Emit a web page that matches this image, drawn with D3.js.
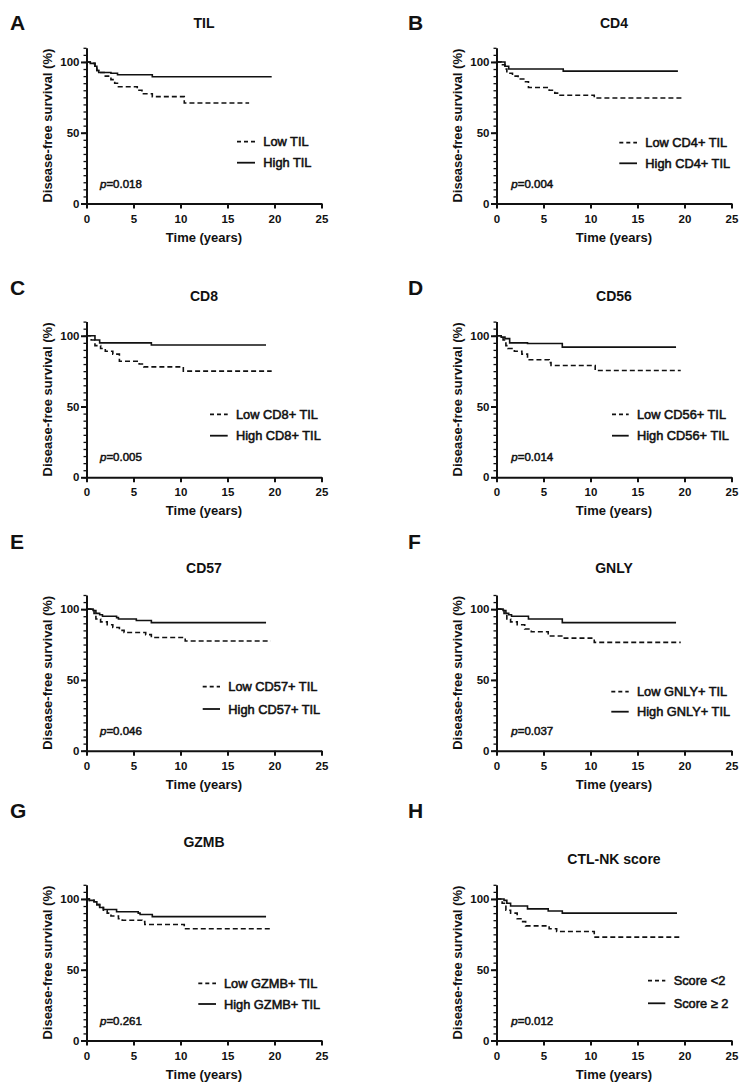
<!DOCTYPE html>
<html>
<head>
<meta charset="utf-8">
<script src="https://cdn.jsdelivr.net/npm/d3@7"></script>
<style>
  html, body { margin: 0; padding: 0; background: #fff; }
  svg { display: block; }
  text { font-family: "Liberation Sans", Arial, sans-serif; fill: #111; }
</style>
</head>
<body>
<svg id="chart" width="744" height="1090"></svg>
<script>
// ---------- DATA (Kaplan–Meier step points: [time in years, survival %]) ----------
const panelLetters = ["A", "B", "C", "D", "E", "F", "G", "H"];
const panelTitles = ["TIL", "CD4", "CD8", "CD56", "CD57", "GNLY", "GZMB", "CTL-NK score"];
const lowLabels = ["Low TIL", "Low CD4+ TIL", "Low CD8+ TIL", "Low CD56+ TIL", "Low CD57+ TIL", "Low GNLY+ TIL", "Low GZMB+ TIL", "Score <2"];
const highLabels = ["High TIL", "High CD4+ TIL", "High CD8+ TIL", "High CD56+ TIL", "High CD57+ TIL", "High GNLY+ TIL", "High GZMB+ TIL", "Score \u2265 2"];
const pValues = ["0.018", "0.004", "0.005", "0.014", "0.046", "0.037", "0.261", "0.012"];
const xTicks = [0, 5, 10, 15, 20, 25];
const yTicks = [0, 50, 100];
const yMinorTicks = d3.range(0, 111, 5);

const tilHigh = [[0,100],[0.4,99],[0.9,97],[1.1,94],[1.3,92.5],[2.6,92],[3.3,91],[7.0,89.5],[19.7,89.5]];
const tilLow  = [[0,100],[0.4,99],[0.9,97],[1.1,94],[1.3,92.5],[2.0,90],[2.6,87.5],[3.0,85],[3.4,82.5],[5.4,80],[5.9,77.5],[7.0,75.5],[10.4,71],[17.3,71]];

const cd4High = [[0,100],[0.9,97],[1.3,95],[7.1,93.5],[19.3,93.5]];
const cd4Low  = [[0,100],[0.5,98],[0.9,95],[1.1,92],[1.7,90],[2.3,88],[2.9,86],[3.4,82],[5.6,80],[6.2,78],[6.6,76.5],[10.4,74.5],[19.7,74.5]];

const cd8High = [[0,100],[0.9,97],[1.4,95],[6.9,93.5],[19.1,93.5]];
const cd8Low  = [[0,100],[0.5,97],[0.9,93],[1.5,91],[2.0,89],[2.8,87],[3.5,82],[5.6,80],[6.1,78],[10.3,75],[19.7,75]];

const cd56High = [[0,100],[0.5,99],[0.9,98],[1.4,95],[3.3,94.5],[7.0,92],[19.1,92]];
const cd56Low  = [[0,100],[0.7,97],[1.0,93],[1.2,91],[1.9,89],[2.7,87],[3.3,83],[5.6,81],[5.8,79],[10.5,75.5],[19.6,75.5]];

const cd57High = [[0,100],[0.7,99],[1.0,97],[1.4,96],[1.7,95],[3.2,94],[3.4,93],[5.3,92],[6.9,90.5],[19.1,90.5]];
const cd57Low  = [[0,100],[0.8,97],[1.0,93],[1.5,91],[2.2,89],[2.8,87],[3.5,85],[4.0,83.5],[6.3,82],[6.9,80],[10.5,77.5],[19.6,77.5]];

const gnlyHigh = [[0,100],[0.7,99],[1.0,97],[1.3,96],[1.6,95],[3.4,93],[7.0,90.5],[19.1,90.5]];
const gnlyLow  = [[0,100],[0.8,97],[1.1,93],[1.5,91],[2.2,89],[3.0,86],[3.7,84],[5.5,81],[7.1,79.5],[10.4,76.5],[19.6,76.5]];

const gzmbHigh = [[0,100],[0.3,99],[0.8,98],[1.1,96],[1.4,94],[1.8,92.5],[3.2,91],[5.5,90],[5.7,89],[7.0,87.5],[19.1,87.5]];
const gzmbLow  = [[0,100],[0.3,99],[0.8,98],[1.1,96],[1.4,94],[1.8,92],[2.2,90],[2.6,88],[3.4,86],[3.8,85],[5.9,84],[6.2,82],[10.4,79],[19.7,79]];

const scoreHigh = [[0,100],[0.8,99],[1.1,97],[1.5,95],[3.3,93],[5.5,91.5],[7.0,90],[19.2,90]];
const scoreLow  = [[0,100],[0.6,97],[1.0,92],[1.5,90],[2.2,86],[2.6,84],[3.1,81],[5.6,79],[6.4,77],[10.4,73],[19.6,73]];

const highSeries = [tilHigh, cd4High, cd8High, cd56High, cd57High, gnlyHigh, gzmbHigh, scoreHigh];
const lowSeries  = [tilLow, cd4Low, cd8Low, cd56Low, cd57Low, gnlyLow, gzmbLow, scoreLow];

// ---------- LAYOUT ----------
const colX0 = [86.5, 496.5];          // x pixel of time 0
const plotW = 235;                    // 0..25 years
const rowY0 = [203.5, 477.3, 750.7, 1040.5]; // y pixel of 0 %
const plotH = 155.7;                  // 0..110 %
const letterBase = [30, 295, 549, 817.5];
const titleBase = [[28.3, 28.3], [300.7, 300.7], [573, 573], [846.7, 864]];
// legend: [lineX1, lineX2, textX, row1Y, row2Y] relative to plot origin
const legendPos = [
  [150.5, 168.5, 176.8, -61.8, -40.8],
  [122.8, 140.5, 148.8, -60.8, -40.2],
  [123.5, 141.2, 149.5, -63, -41.6],
  [115.5, 132.2, 140.5, -63, -41.6],
  [116.2, 133.5, 141.8, -64, -41.7],
  [114.8, 132.2, 140.5, -59, -39],
  [111.8, 129.5, 137.5, -57.2, -36.5],
  [151.5, 168.8, 177.2, -59.8, -37.2]
];

const svg = d3.select("#chart");
svg.append("rect").attr("width", 744).attr("height", 1090).attr("fill", "#fff");

panelTitles.forEach((title, i) => {
  const col = i % 2, row = Math.floor(i / 2);
  const x0 = colX0[col], y0 = rowY0[row];
  const x = d3.scaleLinear().domain([0, 25]).range([0, plotW]);
  const y = d3.scaleLinear().domain([0, 110]).range([0, -plotH]);

  // panel letter
  svg.append("text")
    .attr("x", col === 0 ? 10 : 408).attr("y", letterBase[row])
    .attr("font-size", 21).attr("font-weight", "bold")
    .text(panelLetters[i]);

  // title
  svg.append("text")
    .attr("x", x0 + plotW / 2).attr("y", titleBase[row][col])
    .attr("text-anchor", "middle")
    .attr("font-size", 14).attr("font-weight", "bold")
    .text(title);

  const g = svg.append("g").attr("transform", `translate(${x0},${y0})`);

  // minor y ticks
  g.append("g")
    .call(d3.axisLeft(y).tickValues(yMinorTicks).tickSize(3).tickFormat("").tickSizeOuter(0))
    .call(a => a.select(".domain").remove())
    .call(a => a.selectAll("line").attr("stroke", "#111").attr("stroke-width", 1.3));

  // major y axis
  g.append("g")
    .call(d3.axisLeft(y).tickValues(yTicks).tickSize(5.5).tickPadding(1.5).tickSizeOuter(0))
    .call(a => a.select(".domain").attr("stroke", "#111").attr("stroke-width", 2))
    .call(a => a.selectAll("line").attr("stroke", "#111").attr("stroke-width", 2))
    .call(a => a.selectAll("text").attr("font-size", 11.5).attr("font-weight", "bold")
      .attr("font-family", "Liberation Sans, Arial, sans-serif").attr("fill", "#111"));

  // x axis
  g.append("g")
    .call(d3.axisBottom(x).tickValues(xTicks).tickSize(5).tickPadding(6).tickSizeOuter(0))
    .call(a => a.select(".domain").attr("stroke", "#111").attr("stroke-width", 2))
    .call(a => a.selectAll("line").attr("stroke", "#111").attr("stroke-width", 2))
    .call(a => a.selectAll("text").attr("font-size", 11.5).attr("font-weight", "bold")
      .attr("font-family", "Liberation Sans, Arial, sans-serif").attr("fill", "#111"));

  // axis labels
  g.append("text")
    .attr("x", plotW / 2).attr("y", 38)
    .attr("text-anchor", "middle")
    .attr("font-size", 13).attr("font-weight", "bold")
    .text("Time (years)");
  g.append("text")
    .attr("transform", `translate(-34.5,${-plotH / 2}) rotate(-90)`)
    .attr("text-anchor", "middle")
    .attr("font-size", 13).attr("font-weight", "bold")
    .text("Disease-free survival (%)");

  // curves
  const line = d3.line().x(d => x(d[0])).y(d => y(d[1])).curve(d3.curveStepAfter);
  g.append("path").datum(lowSeries[i])
    .attr("d", line).attr("fill", "none").attr("stroke", "#111")
    .attr("stroke-width", 1.6).attr("stroke-dasharray", "5,3");
  g.append("path").datum(highSeries[i])
    .attr("d", line).attr("fill", "none").attr("stroke", "#111")
    .attr("stroke-width", 1.6);

  // legend
  const lp = legendPos[i];
  g.append("line").attr("x1", lp[0]).attr("x2", lp[1]).attr("y1", lp[3]).attr("y2", lp[3])
    .attr("stroke", "#111").attr("stroke-width", 1.8).attr("stroke-dasharray", "4,3");
  g.append("line").attr("x1", lp[0]).attr("x2", lp[1]).attr("y1", lp[4]).attr("y2", lp[4])
    .attr("stroke", "#111").attr("stroke-width", 1.8);
  g.append("text").attr("x", lp[2]).attr("y", lp[3] + 4.7)
    .attr("font-size", 12.8).attr("stroke", "#111").attr("stroke-width", 0.55)
    .text(lowLabels[i]);
  g.append("text").attr("x", lp[2]).attr("y", lp[4] + 4.7)
    .attr("font-size", 12.8).attr("stroke", "#111").attr("stroke-width", 0.55)
    .text(highLabels[i]);

  // p-value
  const pt = g.append("text").attr("x", col === 0 ? 13.5 : 14.8).attr("y", -16)
    .attr("font-size", 11.5).attr("stroke", "#111").attr("stroke-width", 0.5);
  pt.append("tspan").attr("font-style", "italic").text("p");
  pt.append("tspan").text("=" + pValues[i]);
});
</script>
</body>
</html>
